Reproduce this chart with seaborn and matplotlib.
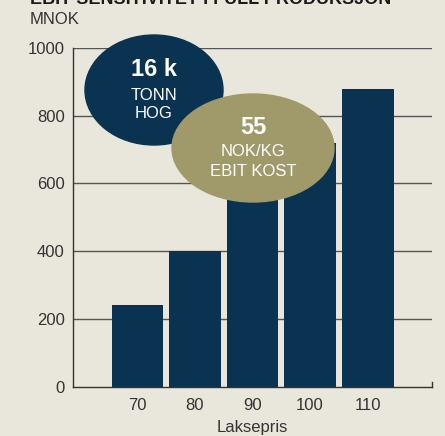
import pandas as pd
from matplotlib import pyplot as plt
from matplotlib.patches import Ellipse
import seaborn as sns

# data
laksepris = ['70', '80', '90', '100', '110']
ebit = [240, 400, 560, 720, 880]
y_ticks = [0, 200, 400, 600, 800, 1000]

navy = '#0a3352'
olive = '#a09a6b'
bg = '#e9e6dc'
grey = '#333333'

sns.set_style('white')
plt.rcParams['font.family'] = ['Liberation Sans', 'DejaVu Sans']

df = pd.DataFrame({'Laksepris': laksepris, 'ebit': ebit})

fig = plt.figure(figsize=(4.45, 4.36), dpi=100, facecolor=bg)
ax = fig.add_axes([0.164, 0.113, 0.807, 0.777])
ax.set_facecolor(bg)

sns.barplot(data=df, x='Laksepris', y='ebit', color=navy, saturation=1,
            width=0.9, linewidth=0, ax=ax)
for p in ax.patches:
    p.set_zorder(3)
    p.set_edgecolor(navy)
    p.set_linewidth(0)

ax.set_xlim(-1.12, 5.12)
ax.set_ylim(0, 1000)
ax.set_yticks(y_ticks)
for t in y_ticks[1:]:
    ax.axhline(t, color='#555555', lw=1, zorder=1)

ax.spines['top'].set_visible(False)
for s in ['left', 'bottom', 'right']:
    ax.spines[s].set_color(grey)
    ax.spines[s].set_linewidth(1)
ax.spines['right'].set_bounds(0, 15)

ax.tick_params(axis='both', length=0, labelsize=12, labelcolor=grey)
ax.tick_params(axis='y', pad=6)
ax.tick_params(axis='x', pad=8)
ax.set_xlabel('Laksepris', fontsize=12, color=grey, labelpad=5)
ax.set_ylabel('')

# title (cut off at top, as in the source) and unit
fig.text(30 / 445, 1 - 0 / 436, 'EBIT SENSITIVITET I FULL PRODUKSJON', fontsize=13,
         fontweight='bold', color='#1a1a1a', va='center', ha='left')
fig.text(30 / 445, 1 - 19 / 436, 'MNOK', fontsize=12, color=grey, va='center', ha='left')

# callout bubbles
W, H = 445, 436
fig.patches.append(Ellipse((154 / W, 1 - 90 / H), 138 / W, 110 / H,
                           transform=fig.transFigure, color=navy, zorder=5))
fig.patches.append(Ellipse((253 / W, 1 - 148 / H), 162 / W, 108 / H,
                           transform=fig.transFigure, color=olive, zorder=6))

fig.text(154 / W, 1 - 70 / H, '16 k', fontsize=17, fontweight='bold', color='white',
         ha='center', va='center', zorder=7)
fig.text(154 / W, 1 - 95 / H, 'TONN', fontsize=12, color='white', ha='center', va='center', zorder=7)
fig.text(154 / W, 1 - 114 / H, 'HOG', fontsize=12, color='white', ha='center', va='center', zorder=7)

fig.text(253 / W, 1 - 128 / H, '55', fontsize=17, fontweight='bold', color='white',
         ha='center', va='center', zorder=8)
fig.text(253 / W, 1 - 152 / H, 'NOK/KG', fontsize=12, color='white', ha='center', va='center', zorder=8)
fig.text(253 / W, 1 - 171 / H, 'EBIT KOST', fontsize=12, color='white', ha='center', va='center', zorder=8)

fig.savefig('out.png', dpi=100, facecolor=bg)
